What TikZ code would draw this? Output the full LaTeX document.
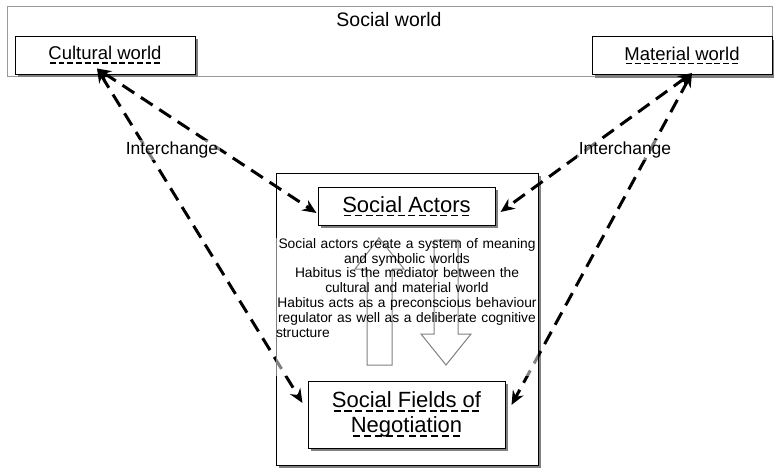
\documentclass[tikz,border=0pt]{standalone}
\usepackage{fontspec}
\setmainfont{Liberation Sans}
\usetikzlibrary{arrows.meta,shadows}
\hyphenpenalty=10000

\newcommand{\dul}[1]{\leavevmode\setbox0\hbox{#1}\rlap{\copy0}%
    \hbox to\wd0{\xleaders\hbox to 0.47em{\hss\vrule width 0.32em height -2.6pt depth 3.9pt\hss}\hfil}}

\begin{document}
\begin{tikzpicture}[x=1pt,y=-1pt]
    \tikzstyle{world box}=[
        draw = black,
        line width = 1pt,
        fill = white,
        drop shadow = {shadow xshift=3pt, shadow yshift=-3pt, fill=black!50, opacity=1},
        inner sep = 0pt,
        minimum width = 180pt,
        minimum height = 38pt,
        font = \fontsize{18.5}{22}\selectfont
    ]
    \tikzstyle{actor box}=[
        world box,
        align = center,
        font = \fontsize{22}{25}\selectfont
    ]
    \tikzstyle{exchange}=[
        {Stealth[length=14pt,width=12pt]}-{Stealth[length=14pt,width=12pt]},
        line width = 3pt,
        dash pattern = on 14pt off 8pt
    ]
    \tikzstyle{veil}=[
        fill = white,
        fill opacity = 0.5,
        text opacity = 1
    ]

    \useasboundingbox (0,0) rectangle (774,467);

    \node[draw=black!40, line width=0.8pt, minimum width=765pt, minimum height=70pt] (world) at (389.5,41) {};
    \node[font=\fontsize{19.5}{22}\selectfont] (title) at (389,20) {Social world};
    \node[world box] (cult) at (105,55) {\dul{Cultural world}};
    \node[world box] (mat)  at (682,55.5) {\dul{Material world}};
    \node[world box, minimum width=262pt, minimum height=292pt] (frame) at (407,319) {};
    \node[actor box, minimum width=177pt] (act) at (406.5,206) {\dul{Social Actors}};
    \node[actor box, minimum width=197pt, minimum height=67pt] (fields) at (406.5,414.5)
        {\dul{Social Fields of}\\\dul{Negotiation}};

    \draw[line width=1pt] (367,365) -- (367,269) -- (355,269) -- (379,238) -- (404,269) -- (392,269) -- (392,365) -- cycle;
    \draw[line width=1pt] (434,240) -- (434,334) -- (421,334) -- (446,365) -- (471,334) -- (458,334) -- (458,240) -- cycle;

    \draw[exchange] ([xshift=-8pt,yshift=6pt]cult.south) -- ([xshift=-1pt,yshift=-7pt]act.west);
    \draw[exchange] ([xshift=-8pt,yshift=6pt]cult.south) -- ([xshift=-5pt,yshift=11.5pt]fields.west);
    \draw[exchange] ([xshift=10pt,yshift=2pt]mat.south) -- ([xshift=5pt,yshift=-6pt]act.east);
    \draw[exchange] ([xshift=10pt,yshift=2pt]mat.south) -- ([xshift=6pt,yshift=9.5pt]fields.east);

    \node[veil, inner sep=2pt, font=\fontsize{17.5}{20}\selectfont] (lx) at (172,150) {Interchange};
    \node[veil, inner sep=2pt, font=\fontsize{17.5}{20}\selectfont] (rx) at (625,150) {Interchange};
    \node[veil, text width=262pt, align=center, inner sep=0pt, anchor=north,
          font=\fontsize{13.8}{14.8}\selectfont] (habitus) at (407,238)
        {Social actors create a system of meaning\\
         and symbolic worlds\\
         Habitus is the mediator between the\\
         cultural and material world\\
         Habitus acts as a preconscious behaviour\\
         regulator as well as a deliberate cognitive\\
         \makebox[262pt][l]{structure}\\[24pt]
         \mbox{}};

\end{tikzpicture}
\end{document}
